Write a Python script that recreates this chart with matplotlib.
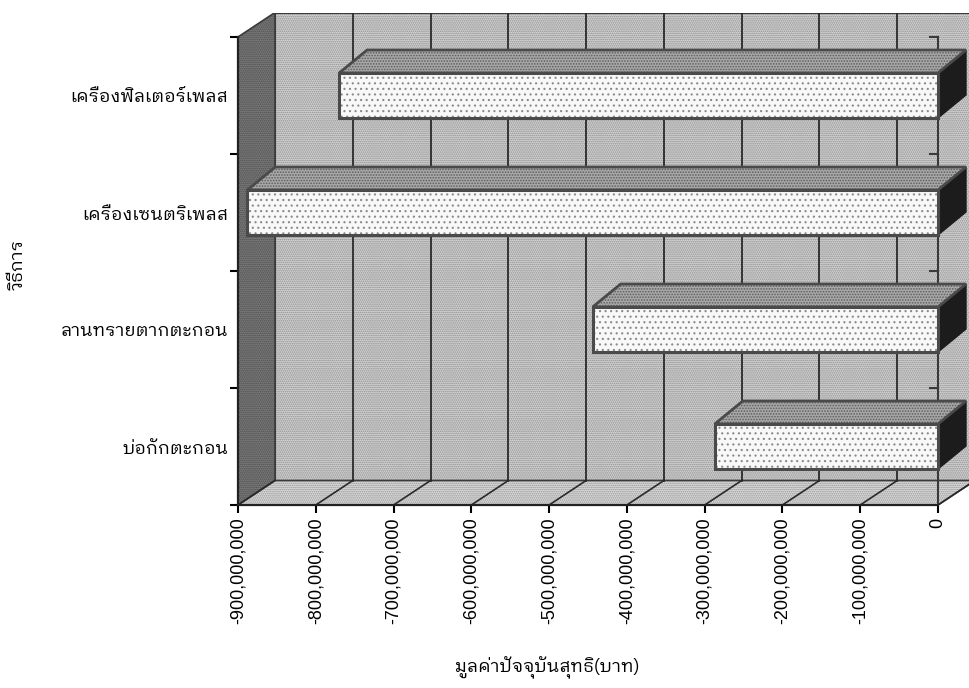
import matplotlib
matplotlib.use("Agg")
import matplotlib.pyplot as plt
from matplotlib import font_manager
from matplotlib.ft2font import FT2Font
from matplotlib.patches import Polygon, Rectangle

# net present value (baht) per treatment method, bottom to top
methods = ["บ่อกักตะกอน", "ลานทรายตากตะกอน", "เครื่องเซนตริเพลส", "เครื่องฟิลเตอร์เพลส"]
npv = [-287_000_000, -444_000_000, -888_000_000, -770_000_000]
xticks = list(range(-900_000_000, 1, 100_000_000))


def thai_fonts():
    found = {}
    for f in font_manager.fontManager.ttflist:
        try:
            if 0x0E01 in FT2Font(f.fname).get_charmap():
                found.setdefault(f.name, f.fname)
        except Exception:
            pass
    return found


found = thai_fonts()
pref = ["IBM Plex Sans Thai Looped", "Loma", "IBM Plex Sans Thai", "Garuda"]
thai = next((p for p in pref if p in found), next(iter(found), "DejaVu Sans"))

W, H = 969, 688
fig = plt.figure(figsize=(W / 100, H / 100), dpi=100)
ax = fig.add_axes([238 / W, 183 / H, 731 / W, 492 / H])

xmin = xticks[0]
px = 900_000_000 / 700          # value per pixel
xmax = xmin + 731 * px
ax.set_xlim(xmin, xmax)
ax.set_ylim(0, 492 / 117)

# depth offsets for walls and bars
dxw, dyw = 37 * px, 24.5 / 117
dxb, dyb = 28 * px, 23 / 117
half = 22.5 / 117
n = len(methods)

edge = "#3a3a3a"
plt.rcParams["hatch.linewidth"] = 0.8

# back wall
ax.add_patch(Rectangle((xmin + dxw, dyw), (0 - xmin), n, facecolor="#d4d4d4",
                       edgecolor="#8c8c8c", hatch="........", lw=0, zorder=1))
ax.add_patch(Rectangle((xmin + dxw, dyw), (0 - xmin), n, fill=False,
                       edgecolor=edge, lw=1.5, zorder=1))
# side wall
side_wall = [(xmin, 0), (xmin, n), (xmin + dxw, n + dyw), (xmin + dxw, dyw)]
ax.add_patch(Polygon(side_wall, closed=True, facecolor="#7a7a7a", edgecolor="#4e4e4e",
                     hatch="........", lw=0, zorder=2))
ax.add_patch(Polygon(side_wall, closed=True, fill=False, edgecolor=edge, lw=1.2, zorder=2))
# floor
floor = [(xmin, 0), (0, 0), (dxw, dyw), (xmin + dxw, dyw)]
ax.add_patch(Polygon(floor, closed=True, facecolor="#dcdcdc", edgecolor="#949494",
                     hatch="........", lw=0, zorder=2))
ax.add_patch(Polygon(floor, closed=True, fill=False, edgecolor=edge, lw=1.2, zorder=2))

for v in xticks[1:]:
    ax.plot([v + dxw, v + dxw], [dyw, n + dyw], color="#2a2a2a", lw=1.3, zorder=3)
for v in xticks:
    ax.plot([v, v + dxw], [0, dyw], color="#2a2a2a", lw=1.2, zorder=3)

# category axis at zero
ax.plot([0, 0], [0, n], color=edge, lw=1.5, zorder=4)
for k in range(1, n + 1):
    ax.plot([-8 * px, 0], [k, k], color=edge, lw=1.5, zorder=4)

# bars
for i, v in enumerate(npv):
    y0, y1 = i + 0.5 - half, i + 0.5 + half
    top = [(v, y1), (0, y1), (dxb, y1 + dyb), (v + dxb, y1 + dyb)]
    side = [(0, y0), (0, y1), (dxb, y1 + dyb), (dxb, y0 + dyb)]
    ax.add_patch(Polygon(top, closed=True, facecolor="#a8a8a8", edgecolor="#5c5c5c",
                         hatch="......", lw=0, zorder=5))
    ax.add_patch(Polygon(top, closed=True, fill=False, edgecolor="#4a4a4a", lw=2, zorder=6))
    ax.add_patch(Polygon(side, closed=True, facecolor="#1c1c1c", edgecolor="#1c1c1c",
                         lw=1, zorder=5))
    ax.add_patch(Rectangle((v, y0), -v, y1 - y0, facecolor="#f8f8f8", edgecolor="#8a8a8a",
                           hatch="...", lw=0, zorder=6))
    ax.add_patch(Rectangle((v, y0), -v, y1 - y0, fill=False, edgecolor="#4a4a4a",
                           lw=2.2, zorder=7))

for s in ["top", "right"]:
    ax.spines[s].set_visible(False)
ax.spines["left"].set_bounds(0, n)
ax.spines["bottom"].set_bounds(xmin, 0)
for s in ["left", "bottom"]:
    ax.spines[s].set_linewidth(1.6)
    ax.spines[s].set_color("#222222")
    ax.spines[s].set_zorder(8)

ax.set_xticks(xticks)
ax.set_xticklabels([f"{v:,}" for v in xticks], rotation=90, family="Liberation Sans",
                   fontsize=13)
ax.tick_params(axis="x", direction="out", length=6, width=1.5, pad=3)

ax.set_yticks(range(n + 1))
ax.set_yticklabels([])
ax.set_yticks([i + 0.5 for i in range(n)], minor=True)
ax.set_yticklabels(methods, minor=True, family=thai, fontsize=13)
ax.tick_params(axis="y", which="major", direction="out", length=6, width=1.5)
ax.tick_params(axis="y", which="minor", length=0, pad=7)

fig.text(18 / W, 1 - 265 / H, "วิธีการ", rotation=90, ha="center", va="center",
         family=thai, fontsize=13)
fig.text(547 / W, 1 - 668 / H, "มูลค่าปัจจุบันสุทธิ(บาท)", ha="center", va="center",
         family=thai, fontsize=13)

fig.savefig("out.png", dpi=100)
